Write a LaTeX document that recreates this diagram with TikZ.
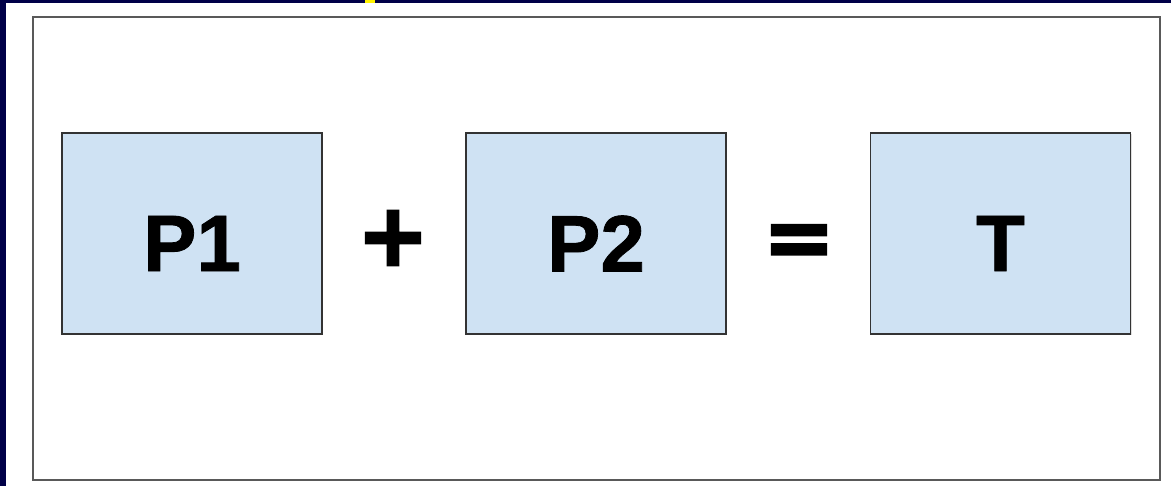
\documentclass[tikz,border=0pt]{standalone}
\usepackage{fontspec}
\setmainfont{Liberation Sans}[BoldFeatures={FakeBold=1}]
\newfontfamily\opfont{DejaVu Sans Bold}[FakeBold=3]
\usetikzlibrary{positioning,shadows}
\definecolor{slidenavy}{RGB}{0,0,72}
\definecolor{partfill}{HTML}{CFE2F3}

\begin{document}
\begin{tikzpicture}[
    x=1pt, y=-1pt,
    every node/.style={font=\bfseries, align=center},
    part/.style={draw=black!80, line width=1.3pt, fill=partfill, minimum width=260pt, minimum height=201pt, inner sep=0pt,
      drop shadow={shadow xshift=1pt, shadow yshift=-1.5pt, opacity=0.25}},
    partlabel/.style={font=\fontsize{80}{96}\selectfont\bfseries, inner sep=0pt},
    operator/.style={font=\fontsize{86}{100}\selectfont\opfont, inner sep=0pt}
  ]
    \useasboundingbox (0,0) rectangle (1171,486);

    % Slide background and frame
    \fill[slidenavy] (0,0) rectangle (6,486);
    \fill[slidenavy] (0,0) rectangle (1171,3);
    \fill[yellow] (365,0) rectangle (375,3);
    \draw[black!65, line width=2pt] (33,17) rectangle (1160,480);

    % Parts of the sum
    \node[part] (p1) at (192,233.5) {};
    \node[part] (p2) at (596,233.5) {};
    \node[part] (t) at (1000.5,233.5) {};

    \node[partlabel] (p1text) at ([yshift=-10pt]p1.center) {P1};
    \node[partlabel] (p2text) at ([yshift=-10pt]p2.center) {P2};
    \node[partlabel] (ttext) at ([yshift=-10pt]t.center) {T};

    % Operators
    \node[operator] (plus) at (393,238) {+};
    \node[operator] (equals) at (799,246) {=};

  \end{tikzpicture}
\end{document}
